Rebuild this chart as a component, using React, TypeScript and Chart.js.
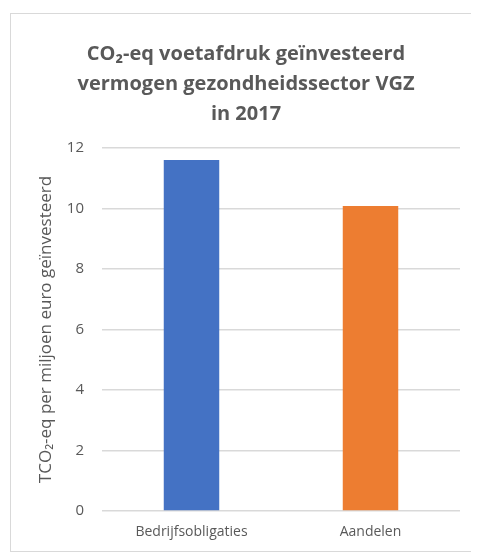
import React, { useEffect, useRef } from "react";
import { Chart, registerables } from "chart.js";

Chart.register(...registerables);

const categories = ["Bedrijfsobligaties", "Aandelen"];
const values = [11.6, 10.08];
const barColors = ["#4472C4", "#ED7D31"];
const titleLines = [
  "CO\u2082-eq voetafdruk geïnvesteerd",
  "vermogen gezondheidssector VGZ",
  "in 2017",
];
const yAxisTitle = "TCO\u2082-eq per miljoen euro geïnvesteerd";
const yMin = 0;
const yMax = 12;
const yStep = 2;

export default function App() {
  const canvasRef = useRef<HTMLCanvasElement | null>(null);

  useEffect(() => {
    if (!canvasRef.current) return;
    const font = "'Open Sans', 'Liberation Sans', sans-serif";
    const chart = new Chart(canvasRef.current, {
      type: "bar",
      data: {
        labels: categories,
        datasets: [
          {
            data: values,
            backgroundColor: barColors,
            borderWidth: 0,
            barPercentage: 0.31,
            categoryPercentage: 1,
          },
        ],
      },
      options: {
        animation: false,
        responsive: false,
        maintainAspectRatio: false,
        layout: { padding: { left: 21, right: 11, top: 0, bottom: 0 } },
        plugins: {
          legend: { display: false },
          tooltip: { enabled: false },
          title: {
            display: true,
            text: titleLines,
            color: "#595959",
            font: { family: font, size: 20, weight: "bold", lineHeight: 1.5 },
            padding: { top: 25, bottom: 19 },
          },
        },
        scales: {
          x: {
            grid: { display: false, drawTicks: false },
            border: { display: false },
            ticks: {
              color: "#595959",
              font: { family: font, size: 14 },
              padding: 13,
              maxRotation: 0,
            },
            afterFit: (s: any) => {
              s.height = 40;
            },
          },
          y: {
            min: yMin,
            max: yMax,
            ticks: {
              stepSize: yStep,
              color: "#595959",
              font: { family: font, size: 15 },
              padding: 18,
            },
            grid: { color: "#d9d9d9", lineWidth: 1.5, drawTicks: false },
            border: { display: false },
            title: {
              display: true,
              text: yAxisTitle,
              color: "#595959",
              font: { family: font, size: 17 },
              padding: { top: 4, bottom: 4 },
            },
            afterFit: (s: any) => {
              s.width = 70;
            },
          },
        },
      },
    });
    return () => chart.destroy();
  }, []);

  return (
    <div style={{ paddingTop: 5, paddingLeft: 2 }}>
      <div
        style={{
          width: 460,
          height: 537,
          border: "1px solid #d9d9d9",
          background: "#fff",
        }}
      >
        <canvas ref={canvasRef} width={460} height={537} style={{ display: "block" }} />
      </div>
    </div>
  );
}
